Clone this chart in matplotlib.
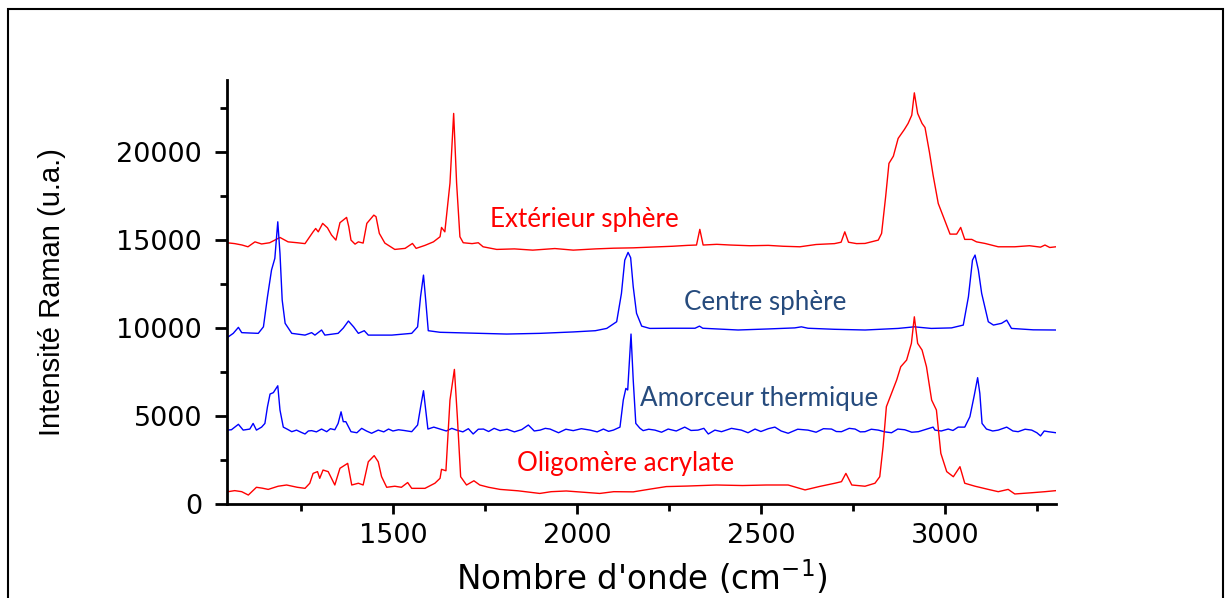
import matplotlib
matplotlib.use("Agg")
import matplotlib.pyplot as plt
from matplotlib.patches import Rectangle
from matplotlib.ticker import MultipleLocator

# points: (wavenumber cm-1, intensity)
exterieur = [(1049, 14850), (1070, 14800), (1090, 14720), (1106, 14620), (1125, 14900), (1143, 14780),
             (1165, 14850), (1193, 15150), (1215, 14900), (1240, 14850), (1261, 14800), (1283, 15470),
             (1290, 15660), (1297, 15470), (1309, 15950), (1322, 15700), (1333, 15290), (1345, 15000),
             (1356, 15990), (1374, 16290), (1380, 15760), (1386, 15000), (1397, 14770), (1406, 14900),
             (1419, 14830), (1429, 15950), (1448, 16420), (1454, 16330), (1463, 15380), (1478, 14830),
             (1505, 14470), (1533, 14530), (1553, 14810), (1563, 14530), (1587, 14700), (1610, 14900),
             (1628, 15190), (1632, 15720), (1641, 15470), (1655, 18240), (1665, 22200), (1673, 18240),
             (1682, 15190), (1691, 14850), (1715, 14800), (1732, 14850), (1745, 14620), (1782, 14470),
             (1830, 14500), (1880, 14430), (1940, 14520), (1990, 14430), (2050, 14500), (2100, 14540),
             (2153, 14560), (2200, 14600), (2260, 14650), (2300, 14700), (2325, 14720), (2334, 15610),
             (2343, 14720), (2380, 14760), (2417, 14720), (2470, 14680), (2520, 14700), (2560, 14650),
             (2606, 14620), (2650, 14750), (2700, 14800), (2718, 14880), (2728, 15470), (2738, 14880),
             (2760, 14800), (2783, 14810), (2819, 15000), (2828, 15380), (2839, 17460), (2848, 19360),
             (2860, 19770), (2873, 20780), (2890, 21290), (2900, 21630), (2910, 22100), (2917, 23370),
             (2926, 22200), (2938, 21630), (2946, 21400), (2958, 20000), (2968, 18690), (2982, 17080),
             (2996, 16320), (3014, 15340), (3032, 15340), (3043, 15720), (3054, 15040), (3073, 15040),
             (3086, 14900), (3109, 14810), (3145, 14620), (3190, 14620), (3230, 14680), (3260, 14600),
             (3272, 14720), (3285, 14580), (3302, 14620)]

centre = [(1049, 9450), (1066, 9700), (1080, 10040), (1089, 9740), (1110, 9720), (1134, 9700),
          (1148, 10070), (1159, 11780), (1170, 13300), (1179, 13960), (1187, 16040), (1193, 14240),
          (1199, 11590), (1207, 10270), (1225, 9700), (1261, 9600), (1279, 9740), (1288, 9600),
          (1306, 9890), (1315, 9600), (1351, 9700), (1365, 10000), (1379, 10400), (1393, 10070),
          (1406, 9700), (1422, 9850), (1433, 9600), (1497, 9600), (1551, 9700), (1567, 10070),
          (1575, 11780), (1583, 13010), (1589, 11590), (1596, 9850), (1628, 9760), (1700, 9720),
          (1809, 9660), (1900, 9700), (1990, 9780), (2050, 9850), (2081, 9980), (2108, 10360),
          (2121, 11970), (2130, 13860), (2139, 14300), (2146, 14000), (2153, 12350), (2162, 10840),
          (2176, 10110), (2198, 9980), (2260, 9990), (2321, 9990), (2333, 10110), (2342, 9990),
          (2438, 9890), (2520, 9950), (2592, 10010), (2610, 10070), (2628, 9990), (2700, 9930),
          (2783, 9890), (2873, 9980), (2917, 10070), (2963, 9980), (3018, 10010), (3050, 10170),
          (3064, 11780), (3075, 13860), (3082, 14150), (3091, 13300), (3100, 11970), (3118, 10360),
          (3132, 10170), (3154, 10270), (3168, 10450), (3181, 9980), (3240, 9900), (3302, 9890)]

amorceur = [(1049, 4200), (1061, 4220), (1080, 4530), (1093, 4200), (1111, 4260), (1120, 4580),
            (1129, 4200), (1143, 4370), (1152, 4580), (1159, 5530), (1166, 6250), (1175, 6330),
            (1187, 6720), (1193, 5340), (1202, 4370), (1213, 4250), (1225, 4110), (1238, 4200),
            (1250, 4080), (1261, 3980), (1270, 4150), (1279, 4170), (1292, 4100), (1306, 4260),
            (1320, 4110), (1330, 4280), (1342, 4220), (1351, 4580), (1359, 5240), (1365, 4680),
            (1372, 4680), (1386, 4110), (1402, 4050), (1415, 4300), (1428, 4150), (1442, 4020),
            (1460, 4200), (1475, 4100), (1488, 4260), (1500, 4150), (1515, 4220), (1530, 4180),
            (1551, 4110), (1567, 4490), (1576, 5620), (1583, 6440), (1589, 5340), (1595, 4260),
            (1611, 4370), (1628, 4260), (1645, 4150), (1660, 4300), (1673, 4200), (1690, 4100),
            (1705, 4280), (1718, 3980), (1732, 4250), (1746, 4260), (1760, 4120), (1775, 4300),
            (1791, 4170), (1810, 4250), (1830, 4100), (1850, 4230), (1868, 4490), (1884, 4150),
            (1900, 4200), (1914, 4300), (1927, 4260), (1950, 4050), (1970, 4250), (1990, 4170),
            (2012, 4280), (2036, 4200), (2055, 4100), (2072, 4260), (2086, 4130), (2099, 4200),
            (2117, 4370), (2126, 5910), (2133, 6570), (2138, 6480), (2147, 9660), (2153, 7050),
            (2160, 4580), (2171, 4310), (2180, 4170), (2195, 4250), (2212, 4200), (2230, 4080),
            (2248, 4260), (2270, 4150), (2293, 4370), (2310, 4180), (2329, 4200), (2345, 4300),
            (2357, 3980), (2375, 4200), (2393, 4110), (2420, 4300), (2447, 4200), (2465, 4050),
            (2484, 4260), (2500, 4120), (2520, 4280), (2538, 4370), (2555, 4150), (2574, 4020),
            (2600, 4250), (2628, 4200), (2650, 4080), (2670, 4280), (2692, 4260), (2705, 4120),
            (2719, 4110), (2740, 4300), (2756, 4260), (2770, 4100), (2783, 4110), (2800, 4250),
            (2819, 4200), (2837, 4100), (2855, 4050), (2872, 4260), (2891, 4220), (2910, 4080),
            (2928, 4110), (2950, 4250), (2968, 4370), (2973, 4200), (2990, 4150), (3009, 4260),
            (3022, 4180), (3036, 4370), (3054, 4370), (3068, 4960), (3080, 6190), (3089, 7180),
            (3095, 6290), (3101, 4580), (3113, 4260), (3130, 4150), (3145, 4200), (3168, 4370),
            (3185, 4150), (3199, 4110), (3218, 4250), (3236, 4200), (3250, 4050), (3260, 3870),
            (3270, 4150), (3281, 4110), (3302, 4050)]

oligomere = [(1049, 890), (1052, 700), (1070, 760), (1089, 700), (1107, 510), (1129, 950),
             (1145, 900), (1161, 830), (1188, 1010), (1211, 1080), (1240, 950), (1261, 890),
             (1274, 1180), (1283, 1740), (1295, 1840), (1301, 1460), (1310, 1930), (1324, 1840),
             (1342, 1080), (1356, 2030), (1377, 2310), (1388, 1080), (1406, 1180), (1419, 1080),
             (1433, 2400), (1449, 2750), (1460, 2400), (1469, 1560), (1483, 950), (1505, 1010),
             (1523, 950), (1540, 1220), (1551, 890), (1587, 890), (1614, 1180), (1628, 1460),
             (1632, 1970), (1644, 1890), (1655, 5910), (1667, 7650), (1675, 4960), (1684, 1550),
             (1700, 1080), (1720, 1320), (1736, 1080), (1760, 950), (1791, 830), (1840, 750),
             (1899, 600), (1930, 700), (1971, 740), (2010, 680), (2062, 600), (2100, 700),
             (2153, 690), (2200, 850), (2243, 990), (2300, 1020), (2379, 1080), (2450, 1050),
             (2515, 1080), (2574, 1080), (2620, 800), (2660, 1000), (2701, 1180), (2719, 1270),
             (2731, 1740), (2747, 1080), (2783, 1010), (2810, 1180), (2823, 1550), (2832, 3260),
             (2841, 5530), (2855, 6290), (2869, 7050), (2880, 7800), (2896, 8180), (2909, 9130),
             (2917, 10640), (2926, 9130), (2938, 8750), (2950, 7800), (2964, 5910), (2977, 5340),
             (2989, 2880), (3005, 1840), (3023, 1550), (3041, 2120), (3054, 1180), (3082, 1010),
             (3118, 830), (3145, 700), (3172, 830), (3190, 570), (3236, 640), (3272, 700),
             (3302, 760)]

RED = "#ff0000"
BLUE = "#0000ff"
NAVY = "#264b7d"

fig = plt.figure(figsize=(12.26, 5.98), dpi=100)
ax = fig.add_axes([227 / 1226, 1 - 504 / 598, (1056 - 227) / 1226, (504 - 80) / 598])

for pts, col in [(exterieur, RED), (centre, BLUE), (amorceur, BLUE), (oligomere, RED)]:
    xs, ys = zip(*pts)
    ax.plot(xs, ys, color=col, lw=1.0)

ax.set_xlim(1049, 3302)
ax.set_ylim(0, 24100)
ax.xaxis.set_major_locator(MultipleLocator(500))
ax.xaxis.set_minor_locator(MultipleLocator(250))
ax.yaxis.set_major_locator(MultipleLocator(5000))
ax.yaxis.set_minor_locator(MultipleLocator(2500))

ax.spines["top"].set_visible(False)
ax.spines["right"].set_visible(False)
ax.spines["left"].set_linewidth(2)
ax.spines["bottom"].set_linewidth(2)
ax.tick_params(axis="y", which="major", length=9, width=2, pad=9, labelsize=19.5)
ax.tick_params(axis="y", which="minor", length=5, width=2)
ax.tick_params(axis="x", which="major", length=7, width=2, pad=7, labelsize=19.5)
ax.tick_params(axis="x", which="minor", length=5, width=2)

ax.set_xlabel("Nombre d'onde (cm$^{-1}$)", fontsize=23.5, labelpad=6)
ax.set_ylabel("Intensité Raman (u.a.)", fontsize=21, family=["Liberation Sans", "DejaVu Sans"],
              labelpad=36)

lab = dict(family=["Lato", "DejaVu Sans"], fontsize=18.7, va="baseline", ha="left")
ax.text(1763, 15740, "Extérieur sphère", color=RED, **lab)
ax.text(2292, 11020, "Centre sphère", color=NAVY, **lab)
ax.text(2171, 5570, "Amorceur thermique", color=NAVY, **lab)
ax.text(1837, 1890, "Oligomère acrylate", color=RED, **lab)

# frame around the whole picture
fig.patches.append(Rectangle((8 / 1226, -0.05), 1215 / 1226, 1.05 - 9 / 598,
                             transform=fig.transFigure, fill=False, lw=1.5,
                             edgecolor="black", clip_on=False))

fig.savefig("out.png", dpi=100)
